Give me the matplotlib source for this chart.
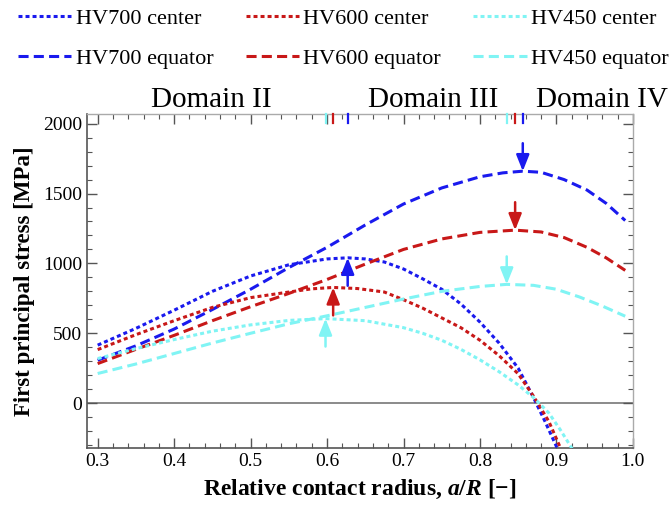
import matplotlib
matplotlib.use("Agg")
import matplotlib.pyplot as plt
from matplotlib.lines import Line2D
from matplotlib.ticker import MultipleLocator

plt.rcParams['font.family'] = ['Liberation Serif', 'DejaVu Serif']
plt.rcParams['mathtext.fontset'] = 'custom'
plt.rcParams['mathtext.rm'] = 'Liberation Serif:bold'
plt.rcParams['mathtext.it'] = 'Liberation Serif:bold:italic'

# ---- data ----
hv700_center_x = [0.30, 0.35, 0.40, 0.45, 0.50, 0.55, 0.60, 0.627, 0.65, 0.675, 0.70, 0.725, 0.75, 0.775, 0.80, 0.825, 0.85, 0.87, 0.885, 0.90, 0.902]
hv700_center_y = [415, 535, 665, 800, 910, 990, 1032, 1040, 1032, 1010, 960, 890, 815, 710, 580, 430, 250, 40, -130, -310, -330]

hv600_center_x = [0.30, 0.35, 0.40, 0.45, 0.50, 0.55, 0.58, 0.608, 0.64, 0.675, 0.70, 0.725, 0.75, 0.775, 0.80, 0.825, 0.85, 0.87, 0.89, 0.906]
hv600_center_y = [383, 490, 590, 685, 755, 795, 818, 828, 820, 795, 740, 680, 610, 540, 450, 340, 210, 50, -130, -330]

hv450_center_x = [0.30, 0.35, 0.40, 0.45, 0.50, 0.55, 0.598, 0.65, 0.70, 0.725, 0.75, 0.775, 0.80, 0.825, 0.85, 0.87, 0.89, 0.905, 0.921]
hv450_center_y = [319, 390, 455, 515, 560, 592, 605, 590, 540, 500, 450, 385, 310, 225, 130, 40, -70, -190, -330]

hv700_equator_x = [0.30, 0.35, 0.40, 0.45, 0.50, 0.55, 0.60, 0.65, 0.70, 0.75, 0.80, 0.83, 0.856, 0.88, 0.91, 0.94, 0.965, 0.99]
hv700_equator_y = [307, 410, 530, 670, 815, 970, 1115, 1275, 1425, 1540, 1620, 1648, 1660, 1652, 1600, 1525, 1430, 1307]

hv600_equator_x = [0.30, 0.35, 0.40, 0.45, 0.50, 0.55, 0.60, 0.65, 0.70, 0.75, 0.80, 0.846, 0.88, 0.91, 0.94, 0.965, 0.99]
hv600_equator_y = [283, 385, 485, 590, 690, 785, 885, 995, 1100, 1175, 1222, 1238, 1225, 1185, 1115, 1040, 950]

hv450_equator_x = [0.30, 0.35, 0.40, 0.45, 0.50, 0.55, 0.60, 0.65, 0.70, 0.75, 0.80, 0.835, 0.87, 0.90, 0.93, 0.96, 0.99]
hv450_equator_y = [212, 280, 355, 430, 500, 568, 625, 685, 745, 800, 835, 850, 843, 815, 760, 695, 622]

# maxima positions (arrows + domain markers)
center_peak_x = [0.627, 0.608, 0.598]
center_peak_y = [1040, 828, 605]
equator_peak_x = [0.856, 0.846, 0.835]
equator_peak_y = [1660, 1238, 850]

domain_labels = ['Domain II', 'Domain III', 'Domain IV']
domain_label_x = [0.449, 0.739, 0.960]

colors = ['#1a1aee', '#c81818', '#80f4f4']
names = ['HV700', 'HV600', 'HV450']

# ---- plot ----
fig = plt.figure(figsize=(6.69, 5.13), dpi=100)
ax = fig.add_axes([0.130, 0.127, 0.816, 0.651])

dotted = (0, (1.3, 1.0))
dashed = (0, (3.3, 1.7))
lw = 2.2

centers = [(hv700_center_x, hv700_center_y), (hv600_center_x, hv600_center_y), (hv450_center_x, hv450_center_y)]
equators = [(hv700_equator_x, hv700_equator_y), (hv600_equator_x, hv600_equator_y), (hv450_equator_x, hv450_equator_y)]

ax.axhline(0, color='#777777', lw=1.2, zorder=1)

for (cx, cy), (ex, ey), c in zip(centers, equators, colors):
    ax.plot(cx, cy, color=c, lw=lw, linestyle=dotted, zorder=3)
    ax.plot(ex, ey, color=c, lw=lw, linestyle=dashed, zorder=3)

ax.set_xlim(0.286, 1.0)
ax.set_ylim(-320, 2070)

arrow_kw = dict(arrowstyle='-|>,head_length=0.7,head_width=0.28', lw=1.8, shrinkA=0, shrinkB=0)
for px, py, c in zip(center_peak_x, center_peak_y, colors):
    ax.annotate('', xy=(px, py), xytext=(px, py - 200),
                arrowprops=dict(color=c, mutation_scale=14, **arrow_kw), zorder=4)
for px, py, c in zip(equator_peak_x, equator_peak_y, colors):
    ax.annotate('', xy=(px, py), xytext=(px, py + 200),
                arrowprops=dict(color=c, mutation_scale=14, **arrow_kw), zorder=4)

# colored domain markers on the top axis
trans = ax.get_xaxis_transform()
for px, c in zip(center_peak_x + equator_peak_x, colors + colors):
    ax.plot([px, px], [0.974, 1.0], color=c, lw=1.6, transform=trans, clip_on=False, zorder=5)

for lab, lx in zip(domain_labels, domain_label_x):
    ax.text(lx, 1.021, lab, transform=trans, ha='center', va='baseline', fontsize=21)

# axes styling
ax.xaxis.set_major_locator(MultipleLocator(0.1))
ax.xaxis.set_minor_locator(MultipleLocator(0.02))
ax.yaxis.set_major_locator(MultipleLocator(500))
ax.yaxis.set_minor_locator(MultipleLocator(100))
ax.tick_params(which='both', direction='in', top=True, right=True, colors='#555555', labelcolor='black')
ax.tick_params(which='major', length=7, width=1.0, labelsize=14)
ax.tick_params(which='minor', length=3.5, width=0.8)
ax.set_xticks([0.3, 0.4, 0.5, 0.6, 0.7, 0.8, 0.9, 1.0])
ax.set_xticklabels(['0.3', '0.4', '0.5', '0.6', '0.7', '0.8', '0.9', '1.0'])
ax.set_yticks([0, 500, 1000, 1500, 2000])
for side in ['left', 'bottom']:
    ax.spines[side].set_color('#555555')
    ax.spines[side].set_linewidth(1.2)
for side in ['top', 'right']:
    ax.spines[side].set_color('#aaaaaa')
    ax.spines[side].set_linewidth(1.0)

ax.set_xlabel('Relative contact radius, $a/R$ [\u2212]', fontsize=17, fontweight='bold', labelpad=6)
ax.set_ylabel('First principal stress [MPa]', fontsize=16.5, fontweight='bold', labelpad=6)

# legend
handles = []
for n, c in zip(names, colors):
    handles.append(Line2D([], [], color=c, lw=lw, linestyle=dotted, label=f'{n} center'))
    handles.append(Line2D([], [], color=c, lw=lw, linestyle=dashed, label=f'{n} equator'))
fig.legend(handles=handles, ncol=3, loc='upper left', bbox_to_anchor=(0.027, 0.983),
           frameon=False, fontsize=16, handlelength=2.4, handletextpad=0.2,
           columnspacing=1.45, labelspacing=0.85, borderpad=0, borderaxespad=0)

fig.savefig('out.png', dpi=100)
